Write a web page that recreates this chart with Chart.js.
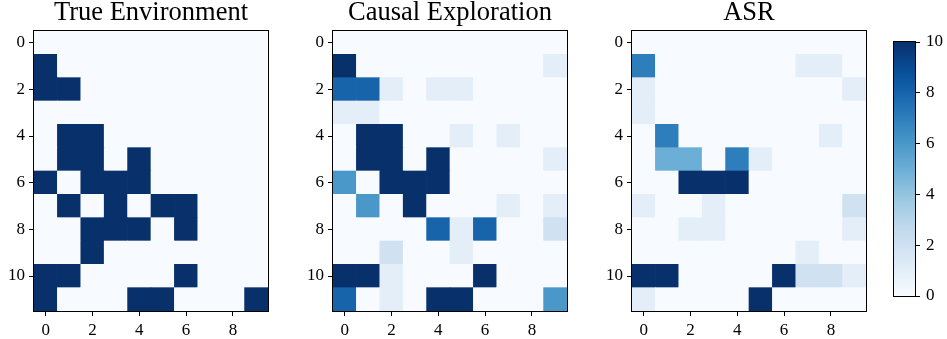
<!DOCTYPE html>
<html>
<head>
<meta charset="utf-8">
<script src="https://cdn.jsdelivr.net/npm/chart.js@4/dist/chart.umd.min.js"></script>
<style>
  body { margin: 0; background: #fff; }
  #wrap { position: relative; width: 947px; height: 339px; }
  canvas { position: absolute; top: 0; }
</style>
</head>
<body>
<div id="wrap">
  <canvas id="trueEnv" width="270" height="339" style="left:0px"></canvas>
  <canvas id="causal" width="270" height="339" style="left:299px"></canvas>
  <canvas id="asr" width="270" height="339" style="left:598px"></canvas>
  <canvas id="cbar" width="57" height="339" style="left:890px"></canvas>
</div>
<script>
const rows = [0, 1, 2, 3, 4, 5, 6, 7, 8, 9, 10, 11];
const cols = [0, 1, 2, 3, 4, 5, 6, 7, 8, 9];
const xTicks = [0, 2, 4, 6, 8];
const yTicks = [0, 2, 4, 6, 8, 10];
const cbarTicks = [0, 2, 4, 6, 8, 10];
const vmin = 0, vmax = 10;

const titles = ['True Environment', 'Causal Exploration', 'ASR'];

const trueEnv = [
  [0, 0, 0, 0, 0, 0, 0, 0, 0, 0],
  [10, 0, 0, 0, 0, 0, 0, 0, 0, 0],
  [10, 10, 0, 0, 0, 0, 0, 0, 0, 0],
  [0, 0, 0, 0, 0, 0, 0, 0, 0, 0],
  [0, 10, 10, 0, 0, 0, 0, 0, 0, 0],
  [0, 10, 10, 0, 10, 0, 0, 0, 0, 0],
  [10, 0, 10, 10, 10, 0, 0, 0, 0, 0],
  [0, 10, 0, 10, 0, 10, 10, 0, 0, 0],
  [0, 0, 10, 10, 10, 0, 10, 0, 0, 0],
  [0, 0, 10, 0, 0, 0, 0, 0, 0, 0],
  [10, 10, 0, 0, 0, 0, 10, 0, 0, 0],
  [10, 0, 0, 0, 10, 10, 0, 0, 0, 10]
];

const causal = [
  [0, 0, 0, 0, 0, 0, 0, 0, 0, 0],
  [10, 0, 0, 0, 0, 0, 0, 0, 0, 1],
  [8, 8, 1, 0, 1, 1, 0, 0, 0, 0],
  [1, 1, 0, 0, 0, 0, 0, 0, 0, 0],
  [0, 10, 10, 0, 0, 1, 0, 1, 0, 0],
  [0, 10, 10, 0, 10, 0, 0, 0, 0, 1],
  [6, 0, 10, 10, 10, 0, 0, 0, 0, 0],
  [0, 6, 0, 10, 0, 0, 0, 1, 0, 1],
  [0, 0, 0, 0, 8, 1, 8, 0, 0, 2],
  [0, 0, 2, 0, 0, 1, 0, 0, 0, 0],
  [10, 10, 1, 0, 0, 0, 10, 0, 0, 0],
  [8, 0, 1, 0, 10, 10, 0, 0, 0, 6]
];

const asr = [
  [0, 0, 0, 0, 0, 0, 0, 0, 0, 0],
  [7, 0, 0, 0, 0, 0, 0, 1, 1, 0],
  [1, 0, 0, 0, 0, 0, 0, 0, 0, 1],
  [1, 0, 0, 0, 0, 0, 0, 0, 0, 0],
  [0, 7, 0, 0, 0, 0, 0, 0, 1, 0],
  [0, 5, 5, 0, 7, 1, 0, 0, 0, 0],
  [0, 0, 10, 10, 10, 0, 0, 0, 0, 0],
  [1, 0, 0, 1, 0, 0, 0, 0, 0, 2],
  [0, 0, 1, 1, 0, 0, 0, 0, 0, 1],
  [0, 0, 0, 0, 0, 0, 0, 1, 0, 0],
  [10, 10, 0, 0, 0, 0, 10, 2, 2, 1],
  [1, 0, 0, 0, 0, 10, 0, 0, 0, 0]
];

// matplotlib "Blues"
const BLUES = ['#f7fbff', '#deebf7', '#c6dbef', '#9ecae1', '#6baed6', '#4292c6', '#2171b5', '#08519c', '#08306b'];

function hexRgb(h) {
  return [1, 3, 5].map(i => parseInt(h.slice(i, i + 2), 16));
}

function blues(t) {
  t = Math.max(0, Math.min(1, t));
  const pos = t * (BLUES.length - 1);
  const i = Math.min(Math.floor(pos), BLUES.length - 2);
  const f = pos - i;
  const a = hexRgb(BLUES[i]), b = hexRgb(BLUES[i + 1]);
  const c = a.map((v, k) => Math.round(v + (b[k] - v) * f));
  return `rgb(${c[0]},${c[1]},${c[2]})`;
}

const SERIF = '"Liberation Serif", "Times New Roman", serif';
const TICK_SIZE = 17;
Chart.defaults.font.family = SERIF;
Chart.defaults.color = '#000';

// black box around the plot area, like matplotlib spines
const frame = {
  id: 'frame',
  afterDraw(chart) {
    const a = chart.chartArea;
    const ctx = chart.ctx;
    ctx.save();
    ctx.strokeStyle = '#000';
    ctx.lineWidth = 1;
    const l = Math.round(a.left) - 0.5, t = Math.round(a.top) - 0.5;
    const r = Math.round(a.right) + 0.5, b = Math.round(a.bottom) + 0.5;
    ctx.strokeRect(l, t, r - l, b - t);
    ctx.restore();
  }
};

const tickGrid = {
  drawOnChartArea: false,
  drawTicks: true,
  tickLength: 5,
  tickColor: '#000',
  tickWidth: 1,
  offset: false
};

function heatmap(id, title, grid) {
  const points = [];
  const colors = [];
  rows.forEach((r, i) => {
    cols.forEach((c, j) => {
      points.push({ y: r, x: [c - 0.5, c + 0.5] });
      colors.push(blues((grid[i][j] - vmin) / (vmax - vmin)));
    });
  });

  return new Chart(document.getElementById(id), {
    type: 'bar',
    data: {
      datasets: [{
        data: points,
        backgroundColor: colors,
        borderWidth: 0,
        barPercentage: 1,
        categoryPercentage: 1,
        grouped: false
      }]
    },
    options: {
      indexAxis: 'y',
      responsive: false,
      animation: false,
      events: [],
      layout: { padding: { top: 0, right: 2, bottom: 0, left: 0 } },
      plugins: {
        legend: { display: false },
        tooltip: { enabled: false },
        title: {
          display: true,
          text: title,
          fullSize: false,
          color: '#000',
          font: { family: SERIF, size: 26.5, weight: 'normal', lineHeight: 1.0 },
          padding: { top: 0, bottom: 4.5 }
        }
      },
      scales: {
        x: {
          type: 'linear',
          min: -0.5,
          max: 9.5,
          offset: false,
          afterBuildTicks: s => { s.ticks = xTicks.map(v => ({ value: v })); },
          afterFit: s => { s.height = 28; },
          grid: tickGrid,
          border: { display: false },
          ticks: { font: { size: TICK_SIZE }, color: '#000', padding: 4, maxRotation: 0 }
        },
        y: {
          type: 'linear',
          reverse: true,
          min: -0.5,
          max: 11.5,
          offset: false,
          afterBuildTicks: s => { s.ticks = yTicks.map(v => ({ value: v })); },
          afterFit: s => { s.width = 34; },
          grid: tickGrid,
          border: { display: false },
          ticks: { font: { size: TICK_SIZE }, color: '#000', padding: 4 }
        }
      }
    },
    plugins: [frame]
  });
}

heatmap('trueEnv', titles[0], trueEnv);
heatmap('causal', titles[1], causal);
heatmap('asr', titles[2], asr);

// colour bar
new Chart(document.getElementById('cbar'), {
  type: 'bar',
  data: {
    labels: [''],
    datasets: [{
      data: [[vmin, vmax]],
      borderWidth: 0,
      barPercentage: 1,
      categoryPercentage: 1,
      backgroundColor: ctx => {
        const a = ctx.chart.chartArea;
        if (!a) return BLUES[0];
        const g = ctx.chart.ctx.createLinearGradient(0, a.bottom, 0, a.top);
        for (let i = 0; i <= 32; i++) g.addColorStop(i / 32, blues(i / 32));
        return g;
      }
    }]
  },
  options: {
    responsive: false,
    animation: false,
    events: [],
    layout: { padding: { top: 42, bottom: 43, left: 4, right: 0 } },
    plugins: { legend: { display: false }, tooltip: { enabled: false } },
    scales: {
      x: { display: false },
      y: {
        type: 'linear',
        position: 'right',
        min: vmin,
        max: vmax,
        afterBuildTicks: s => { s.ticks = cbarTicks.map(v => ({ value: v })); },
        afterFit: s => { s.width = 32; },
        grid: tickGrid,
        border: { display: false },
        ticks: { font: { size: TICK_SIZE }, color: '#000', padding: 6 }
      }
    }
  },
  plugins: [frame]
});
</script>
</body>
</html>
